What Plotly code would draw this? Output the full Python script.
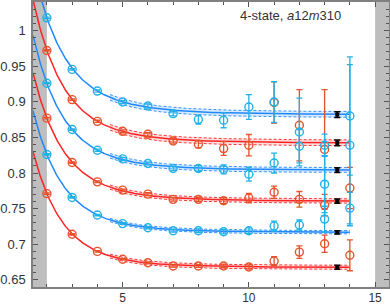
import numpy as np
import plotly.graph_objects as go

# ---------------- data ----------------
t_vals = [2, 3, 4, 5, 6, 7, 8, 9, 10, 11, 12, 13, 14]

# series from bottom (S1) to top (S6); red = odd, blue = even
s1_vals = [0.771, 0.714, 0.690, 0.679, 0.674, 0.6695, 0.6695, 0.6695, 0.668, 0.6765, 0.689, 0.7007, 0.6845]
s1_errs = [0.001, 0.001, 0.001, 0.001, 0.0012, 0.0015, 0.002, 0.0025, 0.003, 0.006, 0.0087, 0.012, 0.0217]

s2_vals = [0.826, 0.7657, 0.741, 0.729, 0.7232, 0.719, 0.719, 0.7175, 0.719, 0.7255, 0.727, 0.7353, 0.7507]
s2_errs = [0.001, 0.001, 0.001, 0.0012, 0.0015, 0.002, 0.0025, 0.003, 0.004, 0.007, 0.007, 0.018, 0.022]

s3_vals = [0.877, 0.8147, 0.7876, 0.776, 0.7703, 0.763, 0.763, 0.761, 0.7647, 0.773, 0.763, 0.755, 0.779]
s3_errs = [0.001, 0.001, 0.0012, 0.0015, 0.002, 0.0025, 0.003, 0.004, 0.0065, 0.0085, 0.011, 0.015, 0.029]

s4_vals = [0.926, 0.861, 0.832, 0.8198, 0.8133, 0.8063, 0.8063, 0.805, 0.7983, 0.814, 0.8375, 0.7843, 0.839]
s4_errs = [0.001, 0.001, 0.0015, 0.002, 0.002, 0.003, 0.004, 0.0063, 0.0098, 0.014, 0.0234, 0.04, 0.113]

s5_vals = [0.972, 0.903, 0.8725, 0.8585, 0.8543, 0.845, 0.8403, 0.8343, 0.839, 0.899, 0.867, 0.833]
s5_errs = [0.001, 0.001, 0.0015, 0.002, 0.0025, 0.003, 0.0051, 0.0097, 0.015, 0.029, 0.05, 0.084]

s6_vals = [1.0178, 0.9454, 0.915, 0.8996, 0.894, 0.8833, 0.875, 0.874, 0.8926, 0.8996, 0.8576, 0.839, 0.880]
s6_errs = [0.001, 0.001, 0.0015, 0.002, 0.003, 0.003, 0.0063, 0.0105, 0.0173, 0.0287, 0.0476, 0.0155, 0.083]

# fit results (plateau E0, its error, and two excited-state amplitudes)
plateau = [0.6676, 0.7167, 0.7605, 0.804, 0.8422, 0.882]
plateau_err = [0.0028, 0.0023, 0.003, 0.0033, 0.004, 0.004]
amp_fast = [0.0846, 0.0872, 0.0888, 0.0943, 0.0988, 0.0985]
amp_slow = [0.0188, 0.0221, 0.0277, 0.0277, 0.0312, 0.0373]
gap_fast = 0.9
gap_slow = 0.4
t_plateau = 13.5
fit_tmax = 14

x_tick_vals = [5, 10, 15]
y_tick_vals = [0.65, 0.7, 0.75, 0.8, 0.85, 0.9, 0.95, 1.0]
y_tick_text = ["0.65", "0.7", "0.75", "0.8", "0.85", "0.9", "0.95", "1"]

title_text = "4-state, <i>a</i>12<i>m</i>310"

# ---------------- styles ----------------
RED_PT = "#e5532b"
BLUE_PT = "#22b1e6"
RED_LN = "#ff2222"
BLUE_LN = "#2088ff"
RED_FILL = "rgba(255,70,70,0.18)"
BLUE_FILL = "rgba(40,140,255,0.18)"

XMIN, XMAX = 1.45, 15.55
YMIN, YMAX = 0.64, 1.04

series = [
    (t_vals, s1_vals, s1_errs, "red"),
    (t_vals, s2_vals, s2_errs, "blue"),
    (t_vals, s3_vals, s3_errs, "red"),
    (t_vals, s4_vals, s4_errs, "blue"),
    (t_vals[:len(s5_vals)], s5_vals, s5_errs, "red"),
    (t_vals, s6_vals, s6_errs, "blue"),
]

fig = go.Figure()

# fit curves and bands
tt = np.linspace(XMIN, fit_tmax, 400)
tb = np.linspace(4.5, fit_tmax, 200)
for i in range(6):
    col = RED_LN if series[i][3] == "red" else BLUE_LN
    fill = RED_FILL if series[i][3] == "red" else BLUE_FILL
    def model(t):
        return plateau[i] + amp_fast[i] * np.exp(-gap_fast * (t - 2)) + amp_slow[i] * np.exp(-gap_slow * (t - 2))
    yb = model(tb)
    fig.add_trace(go.Scatter(x=tb, y=yb + plateau_err[i], mode="lines",
                             line=dict(color=col, width=0.9, dash="3px,2px"),
                             hoverinfo="skip", showlegend=False))
    fig.add_trace(go.Scatter(x=tb, y=yb - plateau_err[i], mode="lines",
                             line=dict(color=col, width=0.9, dash="3px,2px"),
                             fill="tonexty", fillcolor=fill,
                             hoverinfo="skip", showlegend=False))
    fig.add_trace(go.Scatter(x=tt, y=model(tt), mode="lines",
                             line=dict(color=col, width=1.5),
                             hoverinfo="skip", showlegend=False))

# data points: red first, then blue on top
for colname in ["red", "blue"]:
    for (tx, vals, errs, c) in series:
        if c != colname:
            continue
        pc = RED_PT if c == "red" else BLUE_PT
        fig.add_trace(go.Scatter(
            x=tx, y=vals, mode="markers",
            marker=dict(symbol="circle-open", size=8, color=pc, line=dict(width=1.4, color=pc)),
            error_y=dict(type="data", array=errs, color=pc, thickness=1.3, width=3),
            showlegend=False))

# plateau values
fig.add_trace(go.Scatter(
    x=[t_plateau] * len(plateau), y=plateau, mode="markers",
    marker=dict(symbol="square", size=4, color="black"),
    error_y=dict(type="data", array=plateau_err, color="black", thickness=1.5, width=3),
    showlegend=False))

# gray excluded regions
fig.add_shape(type="rect", xref="x", yref="paper", x0=XMIN, x1=2, y0=0, y1=1,
              fillcolor="#bebebe", line=dict(width=0), layer="below")
fig.add_shape(type="rect", xref="x", yref="paper", x0=15, x1=XMAX, y0=0, y1=1,
              fillcolor="#bebebe", line=dict(width=0), layer="below")

fig.add_annotation(text=title_text, xref="paper", yref="paper",
                   x=0.871, y=0.951, xanchor="right", yanchor="middle",
                   showarrow=False, font=dict(family="Liberation Sans", size=13, color="#333"))

fig.update_layout(
    width=390, height=305,
    margin=dict(l=33, r=1, t=2, b=18, pad=0),
    paper_bgcolor="white", plot_bgcolor="white",
    xaxis=dict(range=[XMIN, XMAX], tickmode="array", tickvals=x_tick_vals, automargin=False,
               ticks="inside", ticklen=5, tickwidth=1, tickcolor="#555",
               showline=True, linecolor="#808080", linewidth=1.5, mirror="allticks",
               minor=dict(dtick=1, tick0=0, ticks="inside", ticklen=3, tickcolor="#555"),
               showgrid=False, zeroline=False, ticklabelstandoff=-1,
               tickfont=dict(family="Liberation Sans", size=12, color="#333")),
    yaxis=dict(range=[YMIN, YMAX], tickmode="array", tickvals=y_tick_vals, ticktext=y_tick_text,
               automargin=False,
               ticks="inside", ticklen=5, tickwidth=1, tickcolor="#555",
               showline=True, linecolor="#808080", linewidth=1.5, mirror="allticks",
               minor=dict(dtick=0.01, tick0=0, ticks="inside", ticklen=3, tickcolor="#555"),
               showgrid=False, zeroline=False, ticklabelstandoff=3,
               tickfont=dict(family="Liberation Sans", size=13, color="#333")),
)

fig.write_html("out.html", config={"displayModeBar": False},
               post_script="document.body.style.margin='0';document.body.style.padding='0';")
